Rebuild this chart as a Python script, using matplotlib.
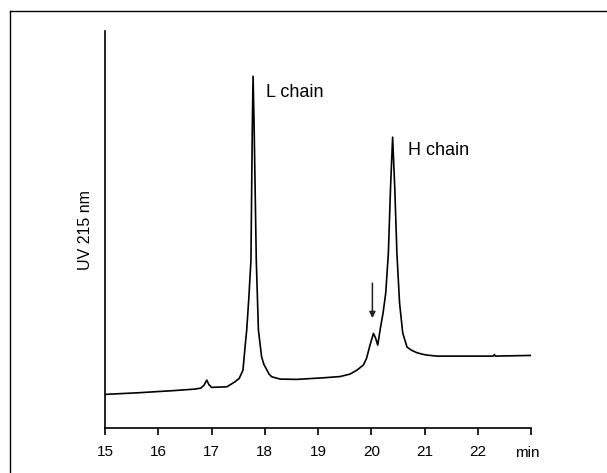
"""Reversed-phase chromatogram of reduced antibody (L and H chains)."""

import matplotlib

matplotlib.use("Agg")
import matplotlib.pyplot as plt
from matplotlib.lines import Line2D
from matplotlib.transforms import blended_transform_factory

plt.rcParams["font.family"] = ["Liberation Sans", "DejaVu Sans"]

# retention time (min) and UV 215 nm signal (arbitrary units)
time_min = [
    15.00, 15.62, 16.30, 16.69, 16.80, 16.86, 16.91, 16.95, 17.00, 17.29,
    17.44, 17.52, 17.59, 17.63, 17.66, 17.70, 17.74, 17.765, 17.78, 17.80,
    17.84, 17.88, 17.94, 17.98, 18.04, 18.08, 18.13, 18.29, 18.60, 19.10,
    19.41, 19.60, 19.73, 19.85, 19.91, 19.98, 20.04, 20.08, 20.12, 20.17,
    20.22, 20.27, 20.32, 20.36, 20.40, 20.44, 20.48, 20.53, 20.59, 20.67,
    20.75, 20.85, 20.95, 21.04, 21.23, 22.29, 22.31, 22.33, 23.04,
]
signal = [
    33.7, 35.3, 37.5, 39.0, 40.0, 43.0, 48.0, 43.5, 40.7, 41.3,
    46.3, 49.7, 58.0, 81.3, 98.0, 130.0, 168.0, 300.0, 352.0, 300.0,
    168.0, 98.0, 71.3, 64.0, 58.0, 54.0, 51.3, 49.0, 48.7, 50.3,
    51.5, 54.0, 58.0, 63.0, 69.7, 84.0, 94.7, 90.0, 83.0, 100.0,
    115.0, 135.0, 175.0, 240.0, 291.0, 240.0, 175.0, 125.0, 95.0, 81.0,
    78.0, 75.5, 74.0, 73.0, 72.0, 72.0, 73.5, 72.0, 72.7,
]

x_ticks = [15, 16, 17, 18, 19, 20, 21, 22, 23]
x_tick_labels = ["15", "16", "17", "18", "19", "20", "21", "22", ""]

peak_labels = ["L chain", "H chain"]
peak_label_pos = [(18.02, 336), (20.68, 278)]

fig = plt.figure(figsize=(6.07, 4.73), dpi=100)
ax = fig.add_axes([0.173, 0.095, 0.702, 0.839])

ax.plot(time_min, signal, color="black", lw=1.2)

ax.set_xlim(15, 23)
ax.set_ylim(0, 397)
ax.set_xticks(x_ticks)
ax.set_xticklabels(x_tick_labels, fontsize=11)
ax.set_yticks([])
ax.tick_params(axis="x", direction="out", length=5, width=1.2, pad=7)
for side in ("top", "right"):
    ax.spines[side].set_visible(False)
for side in ("left", "bottom"):
    ax.spines[side].set_linewidth(1.2)

trans = blended_transform_factory(ax.transData, ax.transAxes)
ax.text(22.93, -0.064, "min", transform=trans, ha="center", va="center", fontsize=11)

ax.set_ylabel("UV 215 nm", fontsize=11.5, labelpad=9)

for label, (tx, ty) in zip(peak_labels, peak_label_pos):
    ax.text(tx, ty, label, ha="left", va="center", fontsize=13)

# arrow marking the shoulder before the H chain
ax.annotate("", xy=(20.02, 110), xytext=(20.02, 145),
            arrowprops=dict(arrowstyle="-|>", color="#222222", lw=1.1,
                            mutation_scale=9, shrinkA=0, shrinkB=0))

# border of the original panel (only left and top edges are visible)
fig.add_artist(Line2D([10 / 607, 10 / 607], [0, 1 - 11.5 / 473],
                      transform=fig.transFigure, color="black", lw=1.0))
fig.add_artist(Line2D([10 / 607, 1], [1 - 11.5 / 473, 1 - 11.5 / 473],
                      transform=fig.transFigure, color="black", lw=1.0))

fig.savefig("out.png", dpi=100)
